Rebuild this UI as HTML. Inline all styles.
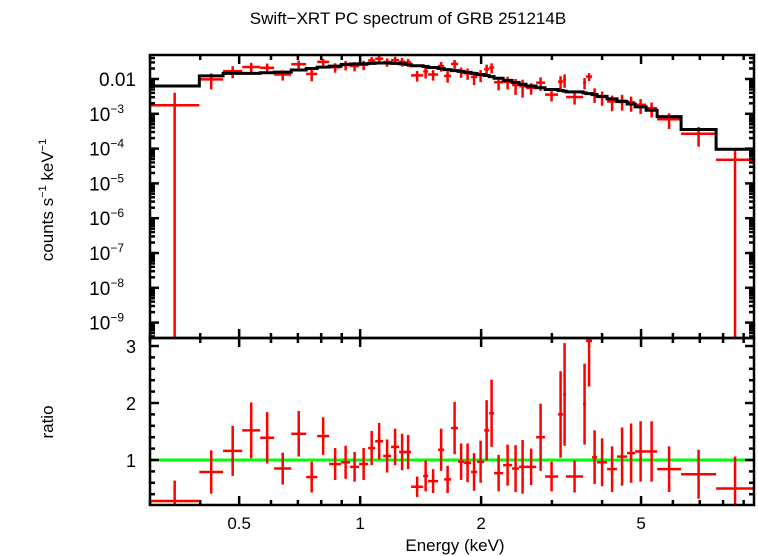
<!DOCTYPE html>
<html><head><meta charset="utf-8"><style>
html,body{margin:0;padding:0;background:#fff;}
svg{display:block;font-family:"Liberation Sans",sans-serif;}
</style></head><body>
<svg id="chart" width="758" height="556" viewBox="0 0 758 556" xmlns="http://www.w3.org/2000/svg">
<rect width="758" height="556" fill="#fff"/>
<text x="408" y="24" font-size="17" text-anchor="middle">Swift−XRT PC spectrum of GRB 251214B</text>
<text transform="translate(53,200) rotate(-90)" font-size="17" text-anchor="middle">counts s<tspan font-size="11" dy="-7">−1</tspan><tspan dy="7"> keV</tspan><tspan font-size="11" dy="-7">−1</tspan></text>
<text transform="translate(53,422) rotate(-90)" font-size="17" text-anchor="middle">ratio</text>
<text x="455" y="551" font-size="17" text-anchor="middle">Energy (keV)</text>
<g id="content"></g>
</svg>
<script>
// bin edges (keV)
const binEdges = [0.30,0.398,0.456,0.509,0.564,0.611,0.674,0.734,0.782,0.837,0.897,0.944,0.994,1.047,1.090,1.141,1.194,1.250,1.294,1.339,1.435,1.476,1.563,1.618,1.684,1.753,1.814,1.888,1.954,2.035,2.094,2.154,2.269,2.388,2.486,2.588,2.741,2.885,3.108,3.199,3.254,3.587,3.649,3.777,3.887,4.116,4.358,4.615,4.833,5.147,5.482,6.289,7.686,9.55];
// model (counts/s/keV) per bin
const modelValues = [0.00631,0.0123,0.0145,0.0145,0.0151,0.0158,0.0182,0.0200,0.0219,0.0234,0.0263,0.0269,0.0275,0.0282,0.0288,0.0288,0.0282,0.0275,0.0263,0.0240,0.0229,0.0214,0.0200,0.0186,0.0174,0.0166,0.0155,0.0145,0.0135,0.0126,0.0117,0.0105,0.00912,0.00794,0.00708,0.00631,0.00562,0.00501,0.00468,0.00447,0.00427,0.00398,0.00380,0.00355,0.00316,0.00269,0.00224,0.00191,0.00158,0.00126,0.000832,0.000355,0.0000955];
// data/model ratio per bin
const ratioValues = [0.28,0.79,1.16,1.52,1.39,0.85,1.46,0.70,1.42,0.93,0.96,0.88,0.93,1.21,1.33,1.07,1.23,1.14,1.14,0.53,0.72,0.63,1.18,0.66,1.56,0.97,0.95,0.79,0.97,1.52,1.82,0.77,0.91,0.85,0.88,0.88,1.40,0.71,1.80,2.15,0.71,1.98,3.09,1.05,0.96,0.84,1.06,1.12,1.15,1.15,0.84,0.75,0.50];
const ratioErrors = [0.36,0.38,0.44,0.49,0.45,0.28,0.40,0.27,0.33,0.28,0.29,0.26,0.28,0.30,0.32,0.29,0.32,0.32,0.30,0.18,0.27,0.21,0.37,0.24,0.46,0.32,0.34,0.33,0.37,0.53,0.59,0.32,0.36,0.41,0.47,0.32,0.59,0.26,0.76,0.90,0.28,0.71,0.80,0.47,0.42,0.40,0.51,0.52,0.53,0.53,0.40,0.43,0.56];
const xTickMajor = [0.5,1,2,5];
const xTickMinor = [0.3,0.4,0.6,0.7,0.8,0.9,3,4,6,7,8,9];
const yTopDecades = [-9,-8,-7,-6,-5,-4,-3,-2];
const yTopLabels = ["10","10","10","10","10","10","10","0.01"];
const ratioTicks = [1,2,3];

const NS="http://www.w3.org/2000/svg";
const L=150,R=754,T1=55,B1=338,T2=338,B2=505;
const LX0=Math.log10(0.30), LX1=Math.log10(9.55);
const X=e=>L+(Math.log10(e)-LX0)/(LX1-LX0)*(R-L);
const Y1=v=>79-(Math.log10(v)+2)*34.8;
const Y2=r=>460-(r-1)*57;
const root=document.getElementById('content');
function mk(tag,attrs,parent){const el=document.createElementNS(NS,tag);for(const k in attrs)el.setAttribute(k,attrs[k]);(parent||root).appendChild(el);return el;}

const defs=mk('defs',{});
const c1=mk('clipPath',{id:'c1'},defs);mk('rect',{x:L,y:T1,width:R-L,height:B1-T1},c1);
const c2=mk('clipPath',{id:'c2'},defs);mk('rect',{x:L,y:T2,width:R-L,height:B2-T2},c2);

const gTop=mk('g',{'clip-path':'url(#c1)'});


const gBot=mk('g',{'clip-path':'url(#c2)'});



const gl=mk('line',{x1:L,x2:R,y1:Y2(1),y2:Y2(1),stroke:'#00ff00','stroke-width':3},gBot);



for(let i=0;i<ratioValues.length;i++){
  const e0=binEdges[i],e1=binEdges[i+1],ec=Math.sqrt(e0*e1);
  const m=modelValues[i],r=ratioValues[i],er=ratioErrors[i];
  const g=mk('g',{stroke:'#ff0000','stroke-width':2.5},gTop);
  
  
  const yv=Y1(r*m);
  mk('line',{x1:X(e0),x2:X(e1),y1:yv,y2:yv},g);
  const lo=r-er>0?Y1((r-er)*m):B1+5;
  mk('line',{x1:X(ec),x2:X(ec),y1:Y1((r+er)*m),y2:lo},g);
  const g2=mk('g',{stroke:'#ff0000','stroke-width':2.5},gBot);
  
  
  mk('line',{x1:X(e0),x2:X(e1),y1:Y2(r),y2:Y2(r)},g2);
  mk('line',{x1:X(ec),x2:X(ec),y1:Y2(r+er),y2:Y2(r-er)},g2);
}
let d='';
for(let i=0;i<modelValues.length;i++){
  const y=Y1(modelValues[i]);
  d+=(i===0?'M':'L')+X(binEdges[i])+','+y+'L'+X(binEdges[i+1])+','+y;
}
const mp=mk('path',{d:d,fill:'none',stroke:'#000','stroke-width':3},gTop);



const ax=mk('g',{stroke:'#000','stroke-width':2.5,fill:'none'});


mk('rect',{x:L,y:T1,width:R-L,height:B1-T1},ax);
mk('rect',{x:L,y:T2,width:R-L,height:B2-T2},ax);
xTickMajor.forEach(e=>{const x=X(e);
  [[T1,1],[B1,-1],[T2,1],[B2,-1]].forEach(([y,s])=>mk('line',{x1:x,x2:x,y1:y,y2:y+s*9},ax));});
xTickMinor.forEach(e=>{const x=X(e);
  [[T1,1],[B1,-1],[T2,1],[B2,-1]].forEach(([y,s])=>mk('line',{x1:x,x2:x,y1:y,y2:y+s*5},ax));});
xTickMajor.forEach(e=>{const t=mk('text',{x:X(e),y:529,'font-size':17,'text-anchor':'middle',stroke:'none',fill:'#000'});
  
  
  t.textContent=String(e);});
for(let k=-10;k<=-1;k++){
  for(let j=1;j<=9;j++){const v=j*Math.pow(10,k);const y=Y1(v);if(y<T1||y>B1)continue;
    const len=j===1?9:5;
    mk('line',{x1:L,x2:L+len,y1:y,y2:y},ax);mk('line',{x1:R,x2:R-len,y1:y,y2:y},ax);}
}
yTopDecades.forEach((k,i)=>{const y=Y1(Math.pow(10,k));
  const t=mk('text',{x:136,y:y+7,'font-size':19,'text-anchor':'end',stroke:'none',fill:'#000'});
  
  
  if(k===-2){t.textContent=yTopLabels[i];}
  else{t.setAttribute('x',124);t.textContent=yTopLabels[i];
    const s=mk('tspan',{'font-size':12,dy:-8},t);s.textContent='−'+(-k);}
});
for(let r=0.2;r<=3.15;r+=0.2){const y=Y2(r);if(y<T2+2||y>B2)continue;
  const major=Math.abs(r-Math.round(r))<0.01;const len=major?9:5;
  mk('line',{x1:L,x2:L+len,y1:y,y2:y},ax);mk('line',{x1:R,x2:R-len,y1:y,y2:y},ax);}
ratioTicks.forEach(r=>{const t=mk('text',{x:136,y:Y2(r)+7,'font-size':18,'text-anchor':'end',stroke:'none',fill:'#000'});
  
  
  t.textContent=String(r);});
</script>
</body></html>
